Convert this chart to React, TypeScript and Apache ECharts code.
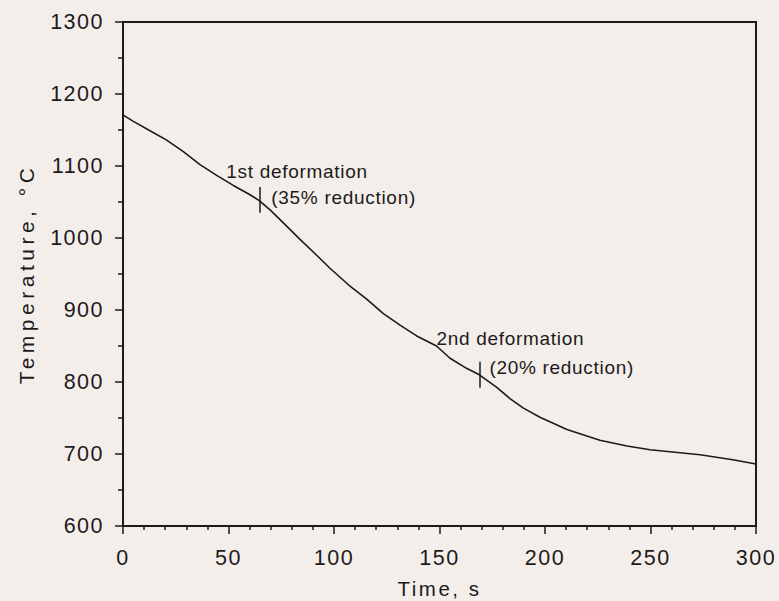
import React, { useEffect, useRef } from "react";
import * as echarts from "echarts";

const timeS = [0, 4.9, 12.8, 20.7, 28.6, 36.5, 44.4, 52.3, 60.2, 64.6, 69.7, 76, 83.9, 91.8, 98.1, 107.6, 115.5, 123.4, 131.3, 139.2, 148.6, 155, 162.8, 168.9, 177, 183.4, 189.6, 197.6, 210.4, 226, 238.9, 249.8, 273.5, 289, 300];
const tempC = [1171, 1162, 1149, 1136, 1120, 1102, 1087, 1073, 1060, 1052, 1039, 1021, 998, 976, 958, 933, 915, 895, 879, 864, 850, 833, 819, 810, 793, 777, 764, 751, 734, 719, 711, 706, 699, 692, 686];

const deformTimes = [64.6, 168.9];
const deformTemps = [1053, 810];
const deformNames = ["1st deformation", "2nd deformation"];
const deformReductions = ["(35% reduction)", "(20% reduction)"];

const xTicks = [0, 50, 100, 150, 200, 250, 300];
const yTicks = [600, 700, 800, 900, 1000, 1100, 1200, 1300];

const FONT = "'Liberation Sans', Arial, Helvetica, sans-serif";
const INK = "#1c1a1a";

const css = `
.chartbox text { letter-spacing: 1.5px; }
.chartbox text[style*="21px"] { letter-spacing: 4.5px; }
.chartbox text[style*="20.5px"] { letter-spacing: 2.5px; }
.chartbox text[style*="19px"] { letter-spacing: 0.7px; }
`;

export default function App() {
  const ref = useRef<HTMLDivElement>(null);
  useEffect(() => {
    if (!ref.current) return;
    const chart = echarts.init(ref.current, undefined, { renderer: "svg" });
    const option: any = {
      animation: false,
      backgroundColor: "#f4eeea",
      grid: {
        left: 123,
        right: 23,
        top: 22,
        bottom: 75,
        show: true,
        borderColor: INK,
        borderWidth: 2,
        containLabel: false,
        outerBoundsMode: "none",
      },
      xAxis: {
        type: "value",
        min: xTicks[0],
        max: xTicks[xTicks.length - 1],
        interval: 50,
        name: "Time, s",
        nameLocation: "middle",
        nameGap: 52,
        nameTextStyle: { fontFamily: FONT, fontSize: 20.5, color: INK },
        axisLine: { show: true, onZero: false, lineStyle: { color: INK, width: 2 } },
        axisTick: { show: true, length: 8, lineStyle: { color: INK, width: 1.5 } },
        minorTick: { show: true, splitNumber: 5, length: 4, lineStyle: { color: INK, width: 1.5 } },
        axisLabel: { fontFamily: FONT, fontSize: 21.5, color: INK, margin: 21, formatter: (v: number) => String(v) },
        splitLine: { show: false },
      },
      yAxis: {
        type: "value",
        min: yTicks[0],
        max: yTicks[yTicks.length - 1],
        interval: 100,
        name: "Temperature, °C",
        nameLocation: "middle",
        nameGap: 86,
        nameRotate: 90,
        nameTextStyle: { fontFamily: FONT, fontSize: 21, color: INK },
        axisLine: { show: true, onZero: false, lineStyle: { color: INK, width: 2 } },
        axisTick: { show: true, length: 8, lineStyle: { color: INK, width: 1.5 } },
        minorTick: { show: true, splitNumber: 2, length: 5, lineStyle: { color: INK, width: 1.5 } },
        axisLabel: { fontFamily: FONT, fontSize: 21.5, color: INK, margin: 19, formatter: (v: number) => String(v) },
        splitLine: { show: false },
      },
      series: [
        {
          type: "line",
          data: timeS.map((t, i) => [t, tempC[i]]),
          showSymbol: false,
          smooth: false,
          lineStyle: { color: INK, width: 1.6 },
          markLine: {
            silent: true,
            symbol: "none",
            label: { show: false },
            lineStyle: { color: INK, width: 1.5, type: "solid" },
            data: deformTimes.map((t, i) => [
              { coord: [t, deformTemps[i] + 18] },
              { coord: [t, deformTemps[i] - 18] },
            ]),
          },
        },
      ],
    };
    chart.setOption(option);
    const textOffsets = [
      { nameDx: -33, nameDy: -28, redDx: 12, redDy: -2 },
      { nameDx: -43, nameDy: -36, redDx: 10, redDy: -7 },
    ];
    const graphics: any[] = [];
    deformTimes.forEach((t, i) => {
      const p = chart.convertToPixel({ gridIndex: 0 }, [t, deformTemps[i]]) as number[];
      const o = textOffsets[i];
      graphics.push({
        type: "text",
        x: p[0] + o.nameDx,
        y: p[1] + o.nameDy,
        style: { text: deformNames[i], fontSize: 19, fontFamily: FONT, fill: INK, verticalAlign: "middle" },
      });
      graphics.push({
        type: "text",
        x: p[0] + o.redDx,
        y: p[1] + o.redDy,
        style: { text: deformReductions[i], fontSize: 19, fontFamily: FONT, fill: INK, verticalAlign: "middle" },
      });
    });
    chart.setOption({ graphic: graphics });
    return () => chart.dispose();
  }, []);
  return (
    <>
      <style>{css}</style>
      <div
        ref={ref}
        className="chartbox"
        style={{ position: "absolute", left: 0, top: 0, width: 779, height: 601 }}
      />
    </>
  );
}
